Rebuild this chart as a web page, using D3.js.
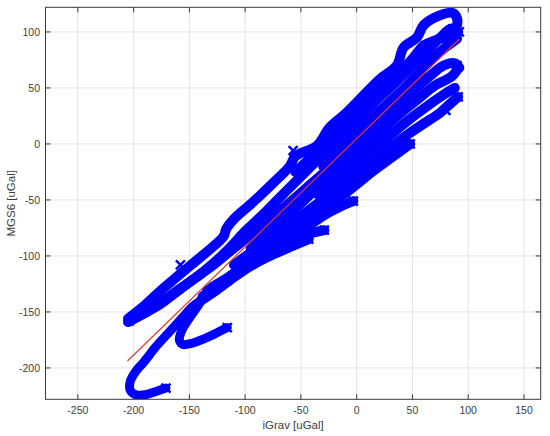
<!DOCTYPE html>
<html>
<head>
<meta charset="utf-8">
<script src="https://cdn.jsdelivr.net/npm/d3@7"></script>
<style>
  html, body { margin: 0; padding: 0; background: #fff; overflow: hidden; }
  svg { display: block; font-family: "Liberation Sans", Arial, sans-serif; }
</style>
</head>
<body>
<svg width="550" height="436" viewBox="0 0 550 436"></svg>
<script>
const xTicks = [-250, -200, -150, -100, -50, 0, 50, 100, 150];
const yTicks = [-200, -150, -100, -50, 0, 50, 100];
const xLimits = [-279, 165];
const yLimits = [-228, 122];

const hookLow = [[-171,-218],[-180,-221],[-190,-224],[-198,-224],[-203,-220],[-203,-212],[-198,-203],[-191,-195],[-180,-181],[-169,-169],[-157,-156],[-147,-145],[-140,-140]];
const hookMid = [[-116,-164],[-126,-169],[-137,-174],[-148,-178],[-156,-179],[-159,-175],[-157,-167],[-151,-157],[-144,-147],[-138,-138]];
// tongue top runs into the upper edge of the band
const upperEdge = [[-205,-156],[-191,-145],[-178,-133],[-164,-121],[-152,-111],[-140,-101],[-128,-91],[-119,-82],[-117,-76],
  [-110,-67],[-93,-52],[-75,-35],[-60,-20],[-55,-11],[-36,-2],[-24,15],[-10,27],[0,37],[21,58],[36,70],[42,86],[54,95],
  [60,106],[75,115],[86,117],[90,112],[89,103],[84,97],[72,93],[60,88]];
const tongueMid = [[-204,-158],[-188,-149],[-172,-139],[-158,-129],[-145,-120],[-130,-108],[-115,-94],[-100,-78],[-85,-64],
  [-70,-49],[-55,-34],[-40,-19],[-25,-4],[-10,11],[5,26],[20,41],[35,55],[50,70],[62,82],[75,95],[85,103],[91,100]];
const tongueLow = [[-205,-159],[-190,-151],[-176,-143],[-164,-134],[-148,-122],[-131,-110],[-115,-97],[-100,-85],[-85,-73],
  [-70,-61],[-55,-48],[-40,-35],[-25,-22],[-10,-8],[5,6],[20,20],[35,34],[50,47],[65,60],[78,70],[88,72],[92,68]];
const fillA = [[-55,-25],[-40,-11],[-25,4],[-12,17],[0,30],[12,41],[25,52],[38,63],[50,76],[58,86]];
const fillC = [[-30,-20],[-15,-6],[0,9],[15,24],[30,38],[45,52],[60,68],[72,80],[82,88],[90,94]];
const lowA = [[-95,-93],[-80,-80],[-65,-67],[-50,-53],[-35,-39],[-20,-26],[-5,-12],[10,2],[25,15],[40,28],[55,40],[70,52],[85,60],[90,66]];
const fillD = [[-35,-45],[-20,-34],[-10,-25],[5,-12],[20,0],[35,12],[50,24],[65,35],[78,44],[88,50]];
const lowB = [[-110,-108],[-95,-97],[-80,-86],[-60,-72],[-40,-57],[-20,-42],[0,-27],[15,-15],[30,-3],[45,8],[60,18],[75,28],[84,36],[91,42]];
const lowC = [[-130,-128],[-115,-119],[-100,-108],[-85,-97],[-65,-84],[-45,-70],[-25,-55],[-5,-40],[15,-24],[30,-13],[48,0]];
const lowD = [[-134,-131],[-118,-122],[-100,-110],[-85,-100],[-70,-91],[-50,-78],[-30,-64],[-15,-56],[-3,-51]];
const lowE = [[-138,-136],[-122,-126],[-105,-114],[-90,-104],[-75,-95],[-60,-87],[-45,-81],[-29,-77]];
const lowF = [[-140,-140],[-125,-130],[-110,-119],[-95,-109],[-80,-101],[-62,-93],[-43,-85]];

const hooks = [hookLow, hookMid];
const band = [upperEdge, tongueMid, tongueLow, fillA, fillC, lowA, fillD, lowB, lowC, lowD, lowE, lowF];

// spiky x markers where the trace turns back
const markers = [[-158,-108],[-57,-6],[-43,-85],[-29,-77],[-3,-51],[48,0],[80,30],[91,42],[90,70],[92,100],
  [-116,-164],[-171,-218],[-204,-158],[-70,-88]];

// red fit line
const fitLine = [[-205.5,-193.8],[91.9,93.5]];

const svg = d3.select('svg');
const width = +svg.attr('width');
const height = +svg.attr('height');

const margin = { top: 7.3, right: 9.3, bottom: 36.7, left: 45.5 };
const innerWidth = width - margin.left - margin.right;
const innerHeight = height - margin.top - margin.bottom;

const xScale = d3.scaleLinear().domain(xLimits).range([0, innerWidth]);
const yScale = d3.scaleLinear().domain(yLimits).range([innerHeight, 0]);

svg.append('rect').attr('width', width).attr('height', height).attr('fill', '#fff');

const g = svg.append('g')
  .attr('transform', `translate(${margin.left}, ${margin.top})`);

svg.append('defs').append('clipPath').attr('id', 'plot-clip')
  .append('rect').attr('width', innerWidth).attr('height', innerHeight);

// grid
g.append('g').selectAll('line').data(xTicks).join('line')
  .attr('x1', d => xScale(d)).attr('x2', d => xScale(d))
  .attr('y1', 0).attr('y2', innerHeight)
  .attr('stroke', '#e3e3e3');
g.append('g').selectAll('line').data(yTicks).join('line')
  .attr('y1', d => yScale(d)).attr('y2', d => yScale(d))
  .attr('x1', 0).attr('x2', innerWidth)
  .attr('stroke', '#e3e3e3');

// blue trace
const line = d3.line()
  .x(d => xScale(d[0]))
  .y(d => yScale(d[1]))
  .curve(d3.curveCatmullRom);

const plot = g.append('g').attr('clip-path', 'url(#plot-clip)');

plot.selectAll('.hook').data(hooks).join('path')
    .attr('class', 'hook')
    .attr('d', line)
    .attr('fill', 'none')
    .attr('stroke', '#0000ff')
    .attr('stroke-width', 9)
    .attr('stroke-linecap', 'round')
    .attr('stroke-linejoin', 'round');

plot.selectAll('.band').data(band).join('path')
    .attr('class', 'band')
    .attr('d', line)
    .attr('fill', 'none')
    .attr('stroke', '#0000ff')
    .attr('stroke-width', 10)
    .attr('stroke-linecap', 'round')
    .attr('stroke-linejoin', 'round');

const m = 4.5;
plot.selectAll('.mark').data(markers).join('path')
    .attr('class', 'mark')
    .attr('d', d => {
      const cx = xScale(d[0]), cy = yScale(d[1]);
      return `M${cx - m},${cy - m}L${cx + m},${cy + m}M${cx - m},${cy + m}L${cx + m},${cy - m}`;
    })
    .attr('stroke', '#0000ff')
    .attr('stroke-width', 2.5);

// fit line
plot.append('path')
  .attr('d', d3.line().x(d => xScale(d[0])).y(d => yScale(d[1]))(fitLine))
  .attr('fill', 'none')
  .attr('stroke', '#e0392b')
  .attr('stroke-width', 1.2);

// tick marks inside the box on all four sides, MATLAB style
const tickLen = 5;
const ticksG = g.append('g').attr('stroke', '#3a3a3a');
xTicks.forEach(t => {
  ticksG.append('line').attr('x1', xScale(t)).attr('x2', xScale(t)).attr('y1', innerHeight).attr('y2', innerHeight - tickLen);
  ticksG.append('line').attr('x1', xScale(t)).attr('x2', xScale(t)).attr('y1', 0).attr('y2', tickLen);
});
yTicks.forEach(t => {
  ticksG.append('line').attr('y1', yScale(t)).attr('y2', yScale(t)).attr('x1', 0).attr('x2', tickLen);
  ticksG.append('line').attr('y1', yScale(t)).attr('y2', yScale(t)).attr('x1', innerWidth).attr('x2', innerWidth - tickLen);
});

g.append('rect')
  .attr('width', innerWidth).attr('height', innerHeight)
  .attr('fill', 'none').attr('stroke', '#3a3a3a').attr('stroke-width', 1);

// tick labels
svg.append('g').selectAll('text').data(xTicks).join('text')
  .attr('x', d => margin.left + xScale(d))
  .attr('y', margin.top + innerHeight + 15)
  .attr('text-anchor', 'middle')
  .attr('fill', '#3d3d3d')
  .attr('font-size', 10.5)
  .text(d => String(d));

svg.append('g').selectAll('text').data(yTicks).join('text')
  .attr('x', margin.left - 5.5)
  .attr('y', d => margin.top + yScale(d) + 3.7)
  .attr('text-anchor', 'end')
  .attr('fill', '#3d3d3d')
  .attr('font-size', 10.5)
  .text(d => String(d));

// axis labels
svg.append('text')
  .attr('x', margin.left + innerWidth / 2)
  .attr('y', 429)
  .attr('text-anchor', 'middle')
  .attr('fill', '#3d3d3d')
  .attr('font-size', 11.5)
  .text('iGrav [uGal]');

svg.append('text')
  .attr('transform', `translate(15, ${margin.top + innerHeight / 2}) rotate(-90)`)
  .attr('text-anchor', 'middle')
  .attr('fill', '#3d3d3d')
  .attr('font-size', 11.5)
  .text('MGS6 [uGal]');
</script>
</body>
</html>
